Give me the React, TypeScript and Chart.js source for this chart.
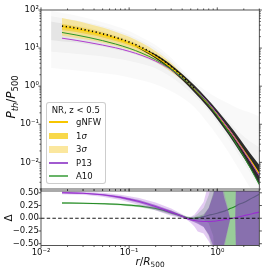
import React, { useEffect, useRef } from "react";
import { Chart, registerables } from "chart.js";

Chart.register(...registerables);

// ---------- top panel data (P_th / P_500 vs r / R_500) ----------
const R_TOP = [0.0173, 0.025, 0.035, 0.05, 0.07, 0.1, 0.14, 0.2, 0.28, 0.4, 0.55, 0.75, 1.0, 1.35, 1.8, 2.4, 3.0];
const GNFW = [36.4, 31.3, 26.7, 22.1, 17.7, 13.4, 9.54, 6.04, 3.51, 1.74, 0.85, 0.395, 0.18, 0.073, 0.029, 0.0109, 0.005];
const P13 = [18.2, 16.0, 14.0, 12.0, 10.2, 8.22, 6.39, 4.53, 2.98, 1.68, 0.885, 0.419, 0.189, 0.0746, 0.0284, 0.0102, 0.00444];
const A10 = [25.7, 22.1, 18.95, 15.7, 12.8, 9.91, 7.34, 4.95, 3.11, 1.68, 0.856, 0.391, 0.169, 0.0623, 0.0215, 0.00674, 0.00258];
const S1_UP = [43, 37, 31.3, 25.6, 20.3, 15.2, 10.7, 6.7, 3.85, 1.88, 0.9, 0.41, 0.186, 0.076, 0.031, 0.0118, 0.0055];
const S1_LO = [30, 26.3, 22.6, 19, 15.4, 11.8, 8.5, 5.45, 3.2, 1.61, 0.8, 0.38, 0.174, 0.07, 0.027, 0.0101, 0.0046];
const S3_UP = [62, 52, 43, 34.5, 27, 19.8, 13.6, 8.3, 4.65, 2.1, 0.95, 0.43, 0.195, 0.08, 0.033, 0.0128, 0.006];
const S3_LO = [21, 18.5, 16.2, 13.9, 11.5, 9, 6.7, 4.4, 2.65, 1.44, 0.76, 0.36, 0.166, 0.066, 0.025, 0.0093, 0.0042];
// median of the simulated profiles (dotted black)
const R_MED = [0.0173, 0.025, 0.035, 0.05, 0.07, 0.1, 0.14, 0.2, 0.28, 0.4, 0.55];
const MEDIAN = [38, 33.5, 28.8, 23.8, 19.1, 14.4, 10.3, 6.5, 3.75, 1.82, 0.87];

// individual-cluster cloud (grey envelopes)
const R_GRAY = [0.013, 0.0173, 0.025, 0.035, 0.05, 0.07, 0.1, 0.14, 0.2, 0.28, 0.4, 0.55, 0.75, 1.0, 1.35, 1.8, 2.4, 3.0];
const G_OUT_UP = [95, 85, 72, 60, 48, 38, 28, 19, 12, 6.5, 2.8, 1.3, 0.75, 0.5, 0.35, 0.25, 0.2, 0.16];
const G_OUT_LO = [3, 2.8, 2.6, 2.4, 2.2, 2, 1.7, 1.4, 1.1, 0.8, 0.5, 0.28, 0.12, 0.05, 0.018, 0.006, 0.002, 0.001];
const G_MID_UP = [70, 62, 54, 46, 38, 30, 22.5, 15.5, 9.8, 5.4, 2.4, 1.05, 0.5, 0.25, 0.12, 0.06, 0.035, 0.025];
const G_MID_LO = [8, 7.5, 7, 6.5, 6, 5.3, 4.6, 3.8, 2.9, 1.9, 1.05, 0.55, 0.26, 0.11, 0.04, 0.014, 0.005, 0.0022];
const G_IN_UP = [50, 45, 40, 34, 28, 22, 16.5, 11.5, 7.3, 4.2, 2.0, 0.95, 0.44, 0.2, 0.085, 0.037, 0.016, 0.009];
const G_IN_LO = [16, 15, 14, 12.5, 11, 9.2, 7.5, 5.8, 4.1, 2.6, 1.38, 0.7, 0.33, 0.145, 0.055, 0.02, 0.0072, 0.0033];
const R_CORE = [0.12, 0.2, 0.28, 0.4, 0.55, 0.75, 1.0, 1.35, 1.8, 2.4, 3.0];
const CORE_UP = [11.6, 6.9, 4.15, 2.1, 1.06, 0.5, 0.235, 0.1, 0.042, 0.0165, 0.0085];
const CORE_LO = [10.8, 5.35, 3.0, 1.45, 0.68, 0.31, 0.136, 0.052, 0.019, 0.0066, 0.0026];

// ---------- bottom panel data (Delta) ----------
const R_BOT = [0.0173, 0.03, 0.05, 0.08, 0.13, 0.2, 0.3, 0.4, 0.45, 0.5, 0.55, 0.6, 0.7, 0.8, 0.9, 1.0, 1.1, 1.2, 1.3, 1.4, 1.5, 1.6, 1.7, 2.0, 2.5, 3.0];
const D_P13 = [0.5, 0.49, 0.46, 0.41, 0.33, 0.23, 0.12, 0.04, 0.0, -0.03, -0.045, -0.055, -0.063, -0.065, -0.06, -0.05, -0.04, -0.03, -0.02, -0.01, 0.0, 0.01, 0.02, 0.05, 0.09, 0.12];
const D_A10 = [0.3, 0.295, 0.285, 0.27, 0.24, 0.19, 0.11, 0.04, 0.01, -0.005, 0.0, 0.01, 0.03, 0.06, 0.08, 0.1, 0.12, 0.14, 0.16, 0.19, 0.21, 0.23, 0.26, 0.31, 0.4, 0.47];
const P1_UP = [0.51, 0.5, 0.475, 0.43, 0.36, 0.26, 0.15, 0.055, 0.01, -0.01, -0.01, 0.0, 0.05, 0.2, 0.45, 0.8, 0.7, 0.4, 0.2, 0.0, 0.0, 0.01, 2, 2, 2, 2];
const P1_LO = [0.49, 0.48, 0.445, 0.39, 0.3, 0.2, 0.09, 0.025, -0.01, -0.05, -0.08, -0.11, -0.17, -0.32, -0.55, -0.9, -0.8, -0.5, -0.25, -0.02, 0.0, 0.01, -2, -2, -2, -2];
const P3_UP = [0.53, 0.52, 0.5, 0.46, 0.4, 0.31, 0.19, 0.08, 0.03, 0.03, 0.07, 0.15, 0.32, 0.7, 2, 2, 0.9, 0.5, 0.25, 0.0, 0.0, 0.01, 2, 2, 2, 2];
const P3_LO = [0.47, 0.46, 0.42, 0.36, 0.26, 0.15, 0.05, 0.0, -0.03, -0.09, -0.16, -0.26, -0.3, -0.45, -0.62, -2, -1, -0.6, -0.3, -0.02, 0.0, 0.01, -2, -2, -2, -2];
const A1_UP = [0.31, 0.3, 0.295, 0.28, 0.255, 0.21, 0.135, 0.06, 0.03, 0.01, 0.02, 0.04, 0.08, 0.2, 0.5, 2, 2, 2, 2, 2, 2, 2, 2, 2, 2, 2];
const A1_LO = [0.29, 0.29, 0.275, 0.26, 0.225, 0.17, 0.085, 0.02, -0.01, -0.02, -0.03, -0.03, -0.03, -0.1, -0.35, -2, -2, -2, -2, -2, -2, -2, -2, -2, -2, -2];
const A3_UP = [0.32, 0.31, 0.3, 0.29, 0.265, 0.225, 0.15, 0.07, 0.04, 0.02, 0.04, 0.09, 0.2, 0.45, 0.8, 2, 2, 2, 2, 2, 2, 2, 2, 2, 2, 2];
const A3_LO = [0.28, 0.28, 0.27, 0.25, 0.215, 0.155, 0.07, 0.01, -0.02, -0.04, -0.06, -0.09, -0.16, -0.35, -0.7, -2, -2, -2, -2, -2, -2, -2, -2, -2, -2, -2];
const ZERO_X = [0.01, 3];
const ZERO_Y = [0, 0];

// ---------- ticks ----------
const X_MAJOR = [0.01, 0.1, 1];
const X_MINOR = [0.02, 0.03, 0.04, 0.05, 0.06, 0.07, 0.08, 0.09, 0.2, 0.3, 0.4, 0.5, 0.6, 0.7, 0.8, 0.9, 2, 3];
const Y_TOP_MAJOR = [0.01, 0.1, 1, 10, 100];
const Y_TOP_MINOR = [0.002, 0.003, 0.004, 0.005, 0.006, 0.007, 0.008, 0.009, 0.02, 0.03, 0.04, 0.05, 0.06, 0.07, 0.08, 0.09, 0.2, 0.3, 0.4, 0.5, 0.6, 0.7, 0.8, 0.9, 2, 3, 4, 5, 6, 7, 8, 9, 20, 30, 40, 50, 60, 70, 80, 90];
const Y_BOT_MAJOR = [-0.5, -0.25, 0, 0.25, 0.5];
const Y_BOT_LABELS = ["\u22120.50", "\u22120.25", "0.00", "0.25", "0.50"];
const SUP: Record<string, string> = { "-3": "10\u207B\u00B3", "-2": "10\u207B\u00B2", "-1": "10\u207B\u00B9", "0": "10\u2070", "1": "10\u00B9", "2": "10\u00B2" };

const FONT = '"DejaVu Sans", sans-serif';
const W = 273;
const LEFT = 41;
const RIGHT = 259.3;

const pts = (xs: number[], ys: number[]) => xs.map((x, i) => ({ x, y: ys[i] }));

function band(xs: number[], up: number[], lo: number[], color: string, tension: number) {
  return [
    { data: pts(xs, up), fill: "+1", backgroundColor: color, borderWidth: 0, pointRadius: 0, tension, cubicInterpolationMode: tension ? "monotone" : "default" },
    { data: pts(xs, lo), fill: false, borderWidth: 0, pointRadius: 0, tension, cubicInterpolationMode: tension ? "monotone" : "default" },
  ];
}
function line(xs: number[], ys: number[], color: string, width: number, dash: number[] = [], mono = true) {
  return { data: pts(xs, ys), fill: false, borderColor: color, borderWidth: width, borderDash: dash, pointRadius: 0, cubicInterpolationMode: mono ? "monotone" : "default" };
}
function ordered(list: any[]) {
  const n = list.length;
  return list.map((d, i) => ({ ...d, order: n - i }));
}

function makeFrame(xMaj: number[], xMin: number[], yMaj: number[], yMin: number[]) {
  return {
    id: "frameTicks",
    afterDraw(chart: any) {
      const { ctx, chartArea: a, scales } = chart;
      const sx = scales.x, sy = scales.y;
      ctx.save();
      ctx.strokeStyle = "#2b2b2b";
      ctx.lineWidth = 0.8;
      ctx.beginPath();
      const xs: [number, number][] = [...xMaj.map((v) => [v, 2.6] as [number, number]), ...xMin.map((v) => [v, 1.5] as [number, number])];
      for (const [v, len] of xs) {
        const p = sx.getPixelForValue(v);
        if (p < a.left - 0.5 || p > a.right + 0.5) continue;
        ctx.moveTo(p, a.top); ctx.lineTo(p, a.top - len);
        ctx.moveTo(p, a.bottom); ctx.lineTo(p, a.bottom + len);
      }
      const ys: [number, number][] = [...yMaj.map((v) => [v, 2.6] as [number, number]), ...yMin.map((v) => [v, 1.5] as [number, number])];
      for (const [v, len] of ys) {
        const p = sy.getPixelForValue(v);
        if (p < a.top - 0.5 || p > a.bottom + 0.5) continue;
        ctx.moveTo(a.left, p); ctx.lineTo(a.left - len, p);
        ctx.moveTo(a.right, p); ctx.lineTo(a.right + len, p);
      }
      ctx.stroke();
      ctx.strokeRect(a.left, a.top, a.right - a.left, a.bottom - a.top);
      ctx.restore();
    },
  };
}

const tickFont = { family: FONT, size: 8.5 };

export default function App() {
  const topRef = useRef<HTMLCanvasElement>(null);
  const botRef = useRef<HTMLCanvasElement>(null);

  useEffect(() => {
    const topSets = ordered([
      ...band(R_GRAY, G_OUT_UP, G_OUT_LO, "rgba(0,0,0,0.022)", 0.4),
      ...band(R_GRAY, G_MID_UP, G_MID_LO, "rgba(0,0,0,0.03)", 0.4),
      ...band(R_GRAY, G_IN_UP, G_IN_LO, "rgba(0,0,0,0.055)", 0.4),
      ...band(R_TOP, S3_UP, S3_LO, "rgba(250,218,80,0.5)", 0.4),
      ...band(R_TOP, S1_UP, S1_LO, "rgba(244,200,10,0.55)", 0.4),
      ...band(R_CORE, CORE_UP, CORE_LO, "rgba(10,10,10,0.85)", 0.4),
      line(R_TOP, GNFW, "#ffd000", 1.3),
      line(R_TOP, P13, "#b03cd0", 1.0),
      line(R_TOP, A10, "#2a962a", 1.0),
      line(R_MED, MEDIAN, "#000000", 1.6, [1.2, 2.6]),
    ]);

    const topChart = new Chart(topRef.current as HTMLCanvasElement, {
      type: "line",
      data: { datasets: topSets as any },
      options: {
        animation: false,
        responsive: false,
        maintainAspectRatio: false,
        layout: { padding: { top: 10, right: W - RIGHT, left: 0, bottom: 0 } },
        plugins: { legend: { display: false }, tooltip: { enabled: false } },
        scales: {
          x: {
            type: "logarithmic", min: 0.01, max: 3,
            grid: { display: false, drawTicks: false }, border: { display: false },
            ticks: { display: false },
            afterFit: (s: any) => { s.height = 84; },
          },
          y: {
            type: "logarithmic", min: 0.002, max: 100,
            grid: { display: false, drawTicks: false }, border: { display: false },
            ticks: {
              font: tickFont, color: "#111", padding: 2.2, autoSkip: false,
              callback: (v: any) => SUP[String(Math.round(Math.log10(Number(v))))] ?? "",
            },
            afterBuildTicks: (s: any) => { s.ticks = Y_TOP_MAJOR.map((v) => ({ value: v })); },
            afterFit: (s: any) => { s.width = LEFT; },
          },
        },
      } as any,
      plugins: [makeFrame(X_MAJOR, X_MINOR, Y_TOP_MAJOR, Y_TOP_MINOR)],
    });

    const botSets = ordered([
      ...band(R_BOT, A3_UP, A3_LO, "rgba(70,170,70,0.28)", 0),
      ...band(R_BOT, A1_UP, A1_LO, "rgba(50,150,50,0.32)", 0),
      line(R_BOT, D_A10, "#248a24", 1.1),
      ...band(R_BOT, P3_UP, P3_LO, "rgba(165,85,215,0.3)", 0),
      ...band(R_BOT, P1_UP, P1_LO, "rgba(115,55,175,0.5)", 0),
      line(R_BOT, D_P13, "#9a2fd0", 1.1),
      line(ZERO_X, ZERO_Y, "#000000", 0.9, [3.5, 2.2], false),
    ]);

    const botChart = new Chart(botRef.current as HTMLCanvasElement, {
      type: "line",
      data: { datasets: botSets as any },
      options: {
        animation: false,
        responsive: false,
        maintainAspectRatio: false,
        layout: { padding: { top: 191, right: W - RIGHT, left: 0, bottom: 0 } },
        plugins: { legend: { display: false }, tooltip: { enabled: false } },
        scales: {
          x: {
            type: "logarithmic", min: 0.01, max: 3,
            grid: { display: false, drawTicks: false }, border: { display: false },
            ticks: {
              font: tickFont, color: "#111", padding: 2, autoSkip: false, maxRotation: 0,
              callback: (v: any) => SUP[String(Math.round(Math.log10(Number(v))))] ?? "",
            },
            afterBuildTicks: (s: any) => { s.ticks = X_MAJOR.map((v) => ({ value: v })); },
            afterFit: (s: any) => { s.height = 27.5; },
          },
          y: {
            type: "linear", min: -0.535, max: 0.535,
            grid: { display: false, drawTicks: false }, border: { display: false },
            ticks: {
              font: tickFont, color: "#111", padding: 2.2, autoSkip: false,
              callback: (_v: any, i: number) => Y_BOT_LABELS[i],
            },
            afterBuildTicks: (s: any) => { s.ticks = Y_BOT_MAJOR.map((v) => ({ value: v })); },
            afterFit: (s: any) => { s.width = LEFT; },
          },
        },
      } as any,
      plugins: [makeFrame(X_MAJOR, X_MINOR, Y_BOT_MAJOR, [])],
    });

    return () => { topChart.destroy(); botChart.destroy(); };
  }, []);

  const sub: React.CSSProperties = { fontSize: "70%", verticalAlign: "-0.3em" };
  const legendItems = [
    { label: "gNFW", kind: "line", color: "#f7c600" },
    { label: "1\u03C3", kind: "patch", color: "#f8d84a" },
    { label: "3\u03C3", kind: "patch", color: "#fbe79e" },
    { label: "P13", kind: "line", color: "#a15ad0" },
    { label: "A10", kind: "line", color: "#68b468" },
  ];
  const rowY = [19.5, 33.5, 46.8, 60.5, 73.5];

  return (
    <div style={{ position: "fixed", left: 0, top: 0, width: W, height: W, background: "#fff", overflow: "hidden", fontFamily: FONT }}>
      <canvas ref={topRef} width={W} height={W} style={{ position: "absolute", left: 0, top: 0 }} />
      <canvas ref={botRef} width={W} height={W} style={{ position: "absolute", left: 0, top: 0 }} />
      {/* legend */}
      <div style={{ position: "absolute", left: 45.5, top: 101.5, width: 60.5, height: 82, boxSizing: "border-box", border: "1px solid rgba(200,200,200,0.9)", borderRadius: 3, background: "rgba(255,255,255,0.8)", fontSize: 8.5, color: "#111" }}>
        <div style={{ position: "absolute", left: 0, right: 0, top: 7, transform: "translateY(-50%)", textAlign: "center", whiteSpace: "nowrap", lineHeight: 1 }}>NR, z &lt; 0.5</div>
        {legendItems.map((it, i) => (
          <div key={it.label}>
            {it.kind === "line" ? (
              <div style={{ position: "absolute", left: 2.8, top: rowY[i] - 0.6, width: 18.4, height: 1.2, background: it.color }} />
            ) : (
              <div style={{ position: "absolute", left: 2.8, top: rowY[i] - 3.3, width: 18.4, height: 6.6, background: it.color }} />
            )}
            <div style={{ position: "absolute", left: 29.5, top: rowY[i], transform: "translateY(-50%)", whiteSpace: "nowrap", lineHeight: 1 }}>
              {it.label.endsWith("\u03C3") ? (<span>{it.label[0]}<i>{"\u03C3"}</i></span>) : it.label}
            </div>
          </div>
        ))}
      </div>
      {/* axis titles */}
      <div style={{ position: "absolute", left: 12, top: 97, transform: "translate(-50%,-50%) rotate(-90deg)", whiteSpace: "nowrap", fontSize: 12, lineHeight: 1, color: "#111" }}>
        <i>P</i><span style={sub}><i>th</i></span>/<i>P</i><span style={sub}>500</span>
      </div>
      <div style={{ position: "absolute", left: 8, top: 218, transform: "translate(-50%,-50%) rotate(-90deg)", whiteSpace: "nowrap", fontSize: 10.5, lineHeight: 1, color: "#111" }}>
        {"\u0394"}
      </div>
      <div style={{ position: "absolute", left: 150, top: 262, transform: "translate(-50%,-50%)", whiteSpace: "nowrap", fontSize: 10.5, lineHeight: 1, color: "#111" }}>
        <i>r</i>/<i>R</i><span style={sub}>500</span>
      </div>
    </div>
  );
}
